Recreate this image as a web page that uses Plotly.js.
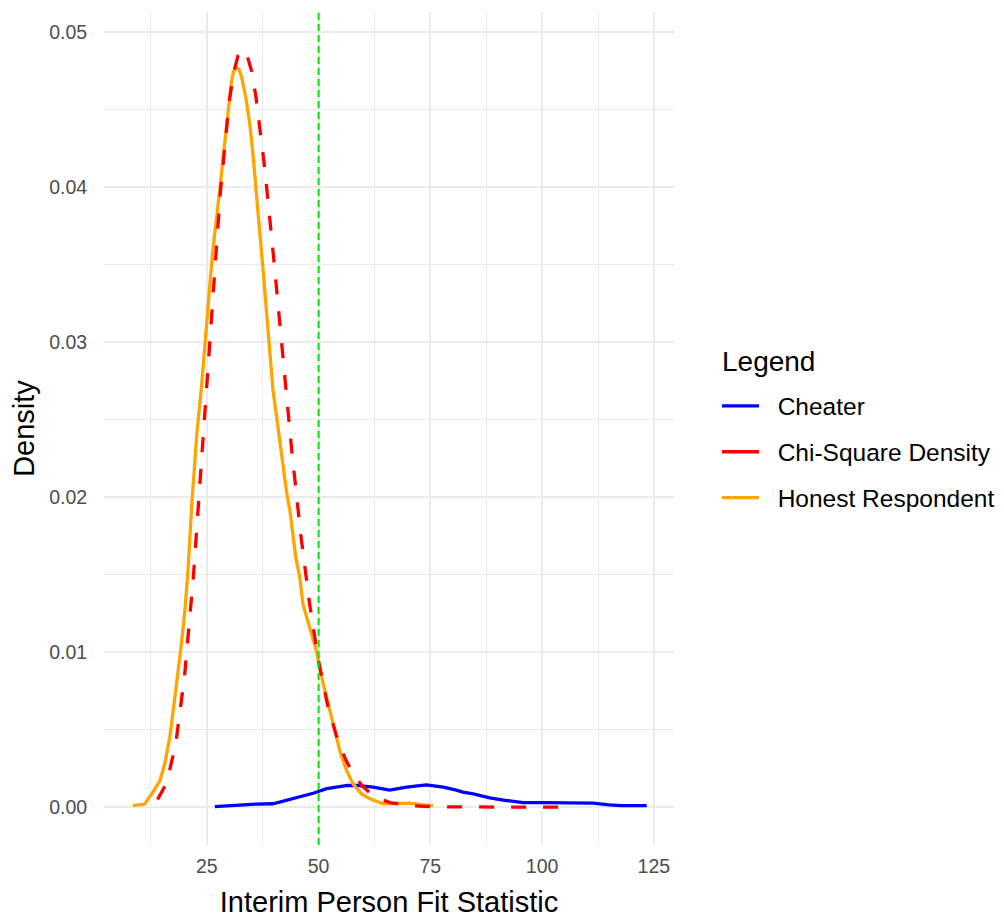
<!DOCTYPE html>
<html>
<head>
<meta charset="utf-8">
<script src="https://cdn.plot.ly/plotly-3.0.1.min.js"></script>
<style>
  html, body { margin: 0; padding: 0; background: #ffffff; }
  #chart { width: 1004px; height: 918px; }
</style>
</head>
<body>
<div id="chart"></div>
<script>
// ---- Data ----
const seriesNames = ["Cheater", "Chi-Square Density", "Honest Respondent"];
const seriesColors = ["#0000FF", "#FF0000", "#FFA500"];
const legendTitle = "Legend";
const threshold = 50;

const honestX = [8.5, 11.1, 13.0, 14.5, 15.6, 16.7, 17.6, 18.5, 19.3, 20.1, 20.8, 21.6, 22.2, 22.8, 23.8, 24.5, 25.2, 25.9, 26.6, 27.3, 27.9, 28.5, 29.2, 29.8, 30.5, 31.0, 31.6, 32.2, 32.8, 33.7, 34.6, 35.4, 36.1, 36.8, 37.6, 38.4, 39.1, 39.8, 40.6, 41.3, 42.1, 42.8, 43.6, 44.3, 44.9, 45.8, 46.5, 48.0, 49.5, 51.0, 52.5, 54.0, 54.7, 56.2, 57.7, 59.6, 61.5, 64.4, 67.4, 70.4, 73.4, 75.6];
const honestY = [0.0001, 0.0002, 0.0010, 0.0017, 0.0028, 0.0045, 0.0065, 0.0085, 0.0105, 0.0127, 0.0153, 0.0194, 0.0220, 0.0242, 0.0271, 0.0297, 0.0322, 0.0345, 0.0366, 0.0382, 0.0398, 0.0415, 0.0434, 0.0453, 0.0468, 0.0475, 0.0477, 0.0476, 0.0471, 0.0458, 0.0441, 0.0419, 0.0398, 0.0372, 0.0346, 0.0320, 0.0294, 0.0269, 0.0252, 0.0237, 0.0222, 0.0204, 0.0191, 0.0174, 0.0161, 0.0148, 0.0131, 0.0116, 0.0101, 0.0080, 0.0062, 0.0045, 0.0037, 0.0024, 0.0015, 0.00086, 0.00054, 0.00022, 0.00026, 0.00026, 0.00015, 0.0001];

const chiX = [14, 16, 18, 20, 22, 24, 26, 28, 30, 31, 32, 33, 34, 35, 36, 38, 40, 42, 44, 46, 48, 50, 52, 54, 56, 58, 60, 62, 64, 66, 68, 70, 75, 80, 85, 90, 95, 100, 105.5];
const chiY = [0.00050, 0.00156, 0.0040, 0.0084, 0.0149, 0.0230, 0.0317, 0.0396, 0.0455, 0.0474, 0.0485, 0.0489, 0.0485, 0.0475, 0.0458, 0.0411, 0.0353, 0.0290, 0.0230, 0.0176, 0.0131, 0.0094, 0.0066, 0.0046, 0.0031, 0.0020, 0.0013, 0.0008, 0.0005, 0.0003, 0.0002, 0.0001, 0.00003, 0.00001, 0.0, 0.0, 0.0, 0.0, 0.0];

const cheaterX = [26.8, 30.0, 32.4, 36.0, 39.8, 42.8, 45.8, 48.8, 51.8, 54.4, 56.5, 58.5, 62.2, 65.9, 69.7, 74.1, 77.9, 80.8, 82.3, 84.6, 88.3, 92.0, 95.7, 100.0, 105.4, 111.4, 115.0, 117.8, 123.4];
const cheaterY = [0.00004, 0.0001, 0.00017, 0.0002, 0.00022, 0.00043, 0.00069, 0.0009, 0.0012, 0.0013, 0.0014, 0.0014, 0.0013, 0.0011, 0.0013, 0.00144, 0.0013, 0.0011, 0.00097, 0.00086, 0.0006, 0.00043, 0.0003, 0.0003, 0.0003, 0.00026, 0.00015, 0.0001, 0.0001];

const xTickVals = [25, 50, 75, 100, 125];
const yTickVals = [0.00, 0.01, 0.02, 0.03, 0.04, 0.05];

// ---- Chart ----
const FONT = "Liberation Sans, Arial, sans-serif";
const pad = "\u00A0\u00A0";

const traces = [
  {
    x: cheaterX, y: cheaterY, type: "scatter", mode: "lines",
    name: pad + seriesNames[0], legendgroup: "g1", legendrank: 1,
    line: { color: seriesColors[0], width: 3.3 }, hoverinfo: "x+y"
  },
  {
    x: honestX, y: honestY, type: "scatter", mode: "lines",
    name: pad + seriesNames[2], legendgroup: "g3", legendrank: 3,
    line: { color: seriesColors[2], width: 3.3 }, hoverinfo: "x+y"
  },
  {
    x: chiX, y: chiY, type: "scatter", mode: "lines",
    name: pad + seriesNames[1], legendgroup: "g2", showlegend: false,
    line: { color: seriesColors[1], width: 3.3, dash: "15px,17px" }, hoverinfo: "x+y"
  },
  {
    x: [null], y: [null], type: "scatter", mode: "lines",
    name: pad + seriesNames[1], legendgroup: "g2", legendrank: 2,
    line: { color: seriesColors[1], width: 3.3 }, hoverinfo: "skip"
  }
];

const gridColor = "#EBEBEB";

const layout = {
  width: 1004, height: 918,
  margin: { l: 104, r: 330, t: 12, b: 73, pad: 0, autoexpand: false },
  paper_bgcolor: "#ffffff", plot_bgcolor: "#ffffff",
  font: { family: FONT, color: "#000000" },
  showlegend: true,
  xaxis: {
    range: [2.0, 129.5],
    tickmode: "array", tickvals: xTickVals, ticktext: xTickVals.map(String),
    showgrid: true, gridcolor: gridColor, gridwidth: 1.5,
    minor: { dtick: 12.5, tick0: 0, showgrid: true, gridcolor: gridColor, gridwidth: 1.2 },
    zeroline: false, showline: false,
    ticks: "outside", ticklen: 4, tickcolor: "rgba(0,0,0,0)",
    tickfont: { family: FONT, size: 19.5, color: "#4D4D4D" },
    title: { text: "Interim Person Fit Statistic", font: { family: FONT, size: 29, color: "#000000" }, standoff: 16 },
    automargin: false
  },
  yaxis: {
    range: [-0.00244, 0.0513],
    tickmode: "array", tickvals: yTickVals, ticktext: yTickVals.map(v => v.toFixed(2)),
    showgrid: true, gridcolor: gridColor, gridwidth: 1.5,
    minor: { dtick: 0.005, tick0: 0, showgrid: true, gridcolor: gridColor, gridwidth: 1.2 },
    zeroline: false, showline: false,
    ticks: "outside", ticklen: 12, tickcolor: "rgba(0,0,0,0)",
    tickfont: { family: FONT, size: 19.5, color: "#4D4D4D" },
    title: { text: "Density", font: { family: FONT, size: 29, color: "#000000" }, standoff: 5 },
    automargin: false
  },
  shapes: [
    {
      type: "line", xref: "x", yref: "paper",
      x0: threshold, x1: threshold, y0: 0, y1: 1,
      line: { color: "#00E600", width: 2, dash: "7px,4px" },
      layer: "above"
    }
  ],
  annotations: [
    {
      text: legendTitle, xref: "paper", yref: "paper",
      x: 1.0807, y: 0.581, xanchor: "left", yanchor: "middle",
      showarrow: false,
      font: { family: FONT, size: 28, color: "#000000" }
    }
  ],
  legend: {
    x: 1.0755, xanchor: "left",
    y: 0.4718, yanchor: "middle",
    traceorder: "grouped", tracegroupgap: 11,
    itemwidth: 37,
    bgcolor: "rgba(0,0,0,0)", borderwidth: 0,
    font: { family: FONT, size: 24.5, color: "#000000" },
    itemclick: false, itemdoubleclick: false
  }
};

Plotly.newPlot("chart", traces, layout, { displayModeBar: false, staticPlot: false, responsive: false });
</script>
</body>
</html>
